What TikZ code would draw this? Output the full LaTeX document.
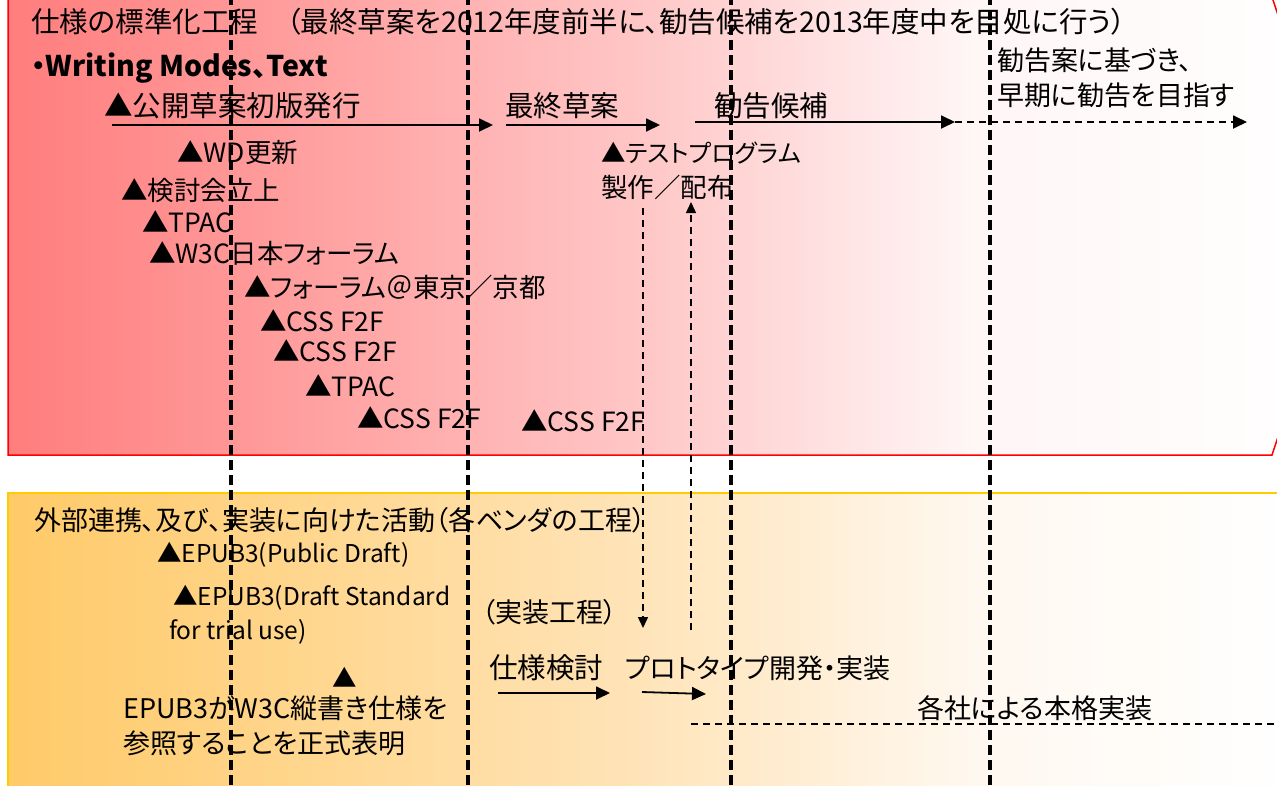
\documentclass[tikz,border=0pt]{standalone}
\usepackage{fontspec}
\setmainfont{Noto Sans CJK JP}[RawFeature=+palt]
\usetikzlibrary{arrows.meta}
\definecolor{redA}{RGB}{255,125,125}
\definecolor{redB}{RGB}{255,198,198}
\definecolor{redC}{RGB}{255,246,246}
\definecolor{orA}{RGB}{255,202,104}
\definecolor{orB}{RGB}{255,228,185}
\definecolor{orC}{RGB}{255,248,240}
\definecolor{boxred}{RGB}{255,0,0}
\definecolor{boxyel}{RGB}{255,204,0}
\pgfdeclarehorizontalshading{redfade}{100bp}{color(0bp)=(redA); color(25bp)=(redA); color(48.5bp)=(redB); color(61bp)=(redC); color(75bp)=(white); color(100bp)=(white)}
\pgfdeclarehorizontalshading{orfade}{100bp}{color(0bp)=(orA); color(25bp)=(orA); color(49.5bp)=(orB); color(62.5bp)=(orC); color(75bp)=(white); color(100bp)=(white)}
\tikzset{
  txt/.style={anchor=west, inner sep=0pt, font=\fontsize{27}{30}\selectfont},
  big/.style={txt, font=\fontsize{28.5}{32}\selectfont},
  mid/.style={txt, font=\fontsize{26.5}{30}\selectfont},
  sml/.style={txt, font=\fontsize{24.5}{28}\selectfont},
  vdash/.style={line width=3.5pt, dash pattern=on 10pt off 5pt},
  thindash/.style={line width=1.4pt, dash pattern=on 7pt off 5pt},
  arr/.style={line width=1.8pt, -{Triangle[length=14pt,width=13pt]}},
  thinarr/.style={thindash, -{Triangle[length=11pt,width=10pt]}},
  arrdash/.style={line width=1.8pt, dash pattern=on 7pt off 5pt, -{Triangle[length=14pt,width=13pt]}},
}
\begin{document}
\begin{tikzpicture}[x=1pt,y=-1pt]
\useasboundingbox (0,0) rectangle (1277,785);
\clip (0,0) rectangle (1277,785);
\fill[white] (0,0) rectangle (1277,785);
% boxes
\path[shading=redfade, draw=boxred, line width=1.5pt] (8,-3) -- (1272,-3) -- (1348,226) -- (1272,455) -- (8,455) -- cycle;
\path[shading=orfade, draw=boxyel, line width=1.8pt] (8,493) -- (1300,493) -- (1300,800) -- (8,800) -- cycle;

% top texts
\node[big] (title) at (31,22) {仕様の標準化工程　（最終草案を2012年度前半に、勧告候補を2013年度中を目処に行う）};
\node[txt, font=\fontsize{28.5}{32}\selectfont\bfseries] (wm) at (31,68) {・Writing Modes、Text};
\node[big] (kokai) at (104,106) {▲公開草案初版発行};
\node[big] (saishu) at (505,106) {最終草案};
\node[big] (kohoL) at (714,106) {勧告候補};
\node[txt] (kian1) at (997,60) {勧告案に基づき、};
\node[txt] (kian2) at (997,95) {早期に勧告を目指す};
\node[mid] (wd) at (177,153) {▲WD更新};
\node[mid] (kento) at (121,190) {▲検討会立上};
\node[mid] (tpac1) at (142,222) {▲TPAC};
\node[mid] (w3cj) at (149,253) {▲W3C日本フォーラム};
\node[mid] (forum) at (244,287) {▲フォーラム＠東京／京都};
\node[mid] (css1) at (260,321) {▲CSS F2F};
\node[mid] (css2) at (273,351) {▲CSS F2F};
\node[mid] (tpac2) at (305,386) {▲TPAC};
\node[mid] (css3) at (357,418) {▲CSS F2F};
\node[mid] (css4) at (521,421) {▲CSS F2F};
\node[sml] (test1) at (601,153) {▲テストプログラム};
\node[mid] (test2) at (601,187) {製作／配布};

% bottom texts
\node[txt] (gaibu) at (34,520) {外部連携、及び、実装に向けた活動（各ベンダの工程）};
\node[sml] (epub1) at (157,555) {▲EPUB3(Public Draft)};
\node[sml] (epub2) at (173,598) {▲EPUB3(Draft Standard};
\node[sml] (epub3) at (169,632) {for trial use)};
\node[sml, anchor=center] (tri) at (345,677) {▲};
\node[txt] (epubw1) at (123,708) {EPUB3がW3C縦書き仕様を};
\node[txt] (epubw2) at (123,743) {参照することを正式表明};
\node[txt] (jisso) at (482,612) {（実装工程）};
\node[big] (shiyo) at (489,668) {仕様検討};
\node[txt] (proto) at (625,668) {プロトタイプ開発・実装};
\node[txt] (honkaku) at (917,708) {各社による本格実装};

% arrow end points
\coordinate (a1s) at (112,125); \coordinate (a1e) at (493,125);
\coordinate (a2s) at (506,125); \coordinate (a2e) at (660,125);
\coordinate (a3s) at (695,122); \coordinate (a3e) at (955,122);
\coordinate (a4e) at (1247,122);
\coordinate (dns) at (643,208); \coordinate (dne) at (643,628);
\coordinate (ups) at (691,630); \coordinate (upe) at (691,202);
\coordinate (b1s) at (498,693); \coordinate (b1e) at (610,693);
\coordinate (b2s) at (642,692); \coordinate (b2e) at (706,694);
\coordinate (hs) at (691,724); \coordinate (he) at (1290,724);

\draw[arr] (a1s) -- (a1e);
\draw[arr] (a2s) -- (a2e);
\draw[arr] (a3s) -- (a3e);
\draw[arrdash] (a3e) -- (a4e);
\draw[thinarr] (dns) -- (dne);
\draw[thinarr] (ups) -- (upe);
\draw[arr] (b1s) -- (b1e);
\draw[arr] (b2s) -- (b2e);
\draw[line width=1.8pt, dash pattern=on 7pt off 5pt] (hs) -- (he);

% phase dividers
\coordinate (v1t) at (231,-5); \coordinate (v1b) at (231,790);
\coordinate (v2t) at (468,-5); \coordinate (v2b) at (468,790);
\coordinate (v3t) at (731,-5); \coordinate (v3b) at (731,790);
\coordinate (v4t) at (990,-5); \coordinate (v4b) at (990,790);
\draw[vdash] (v1t) -- (v1b);
\draw[vdash] (v2t) -- (v2b);
\draw[vdash] (v3t) -- (v3b);
\draw[vdash] (v4t) -- (v4b);
\end{tikzpicture}
\end{document}
